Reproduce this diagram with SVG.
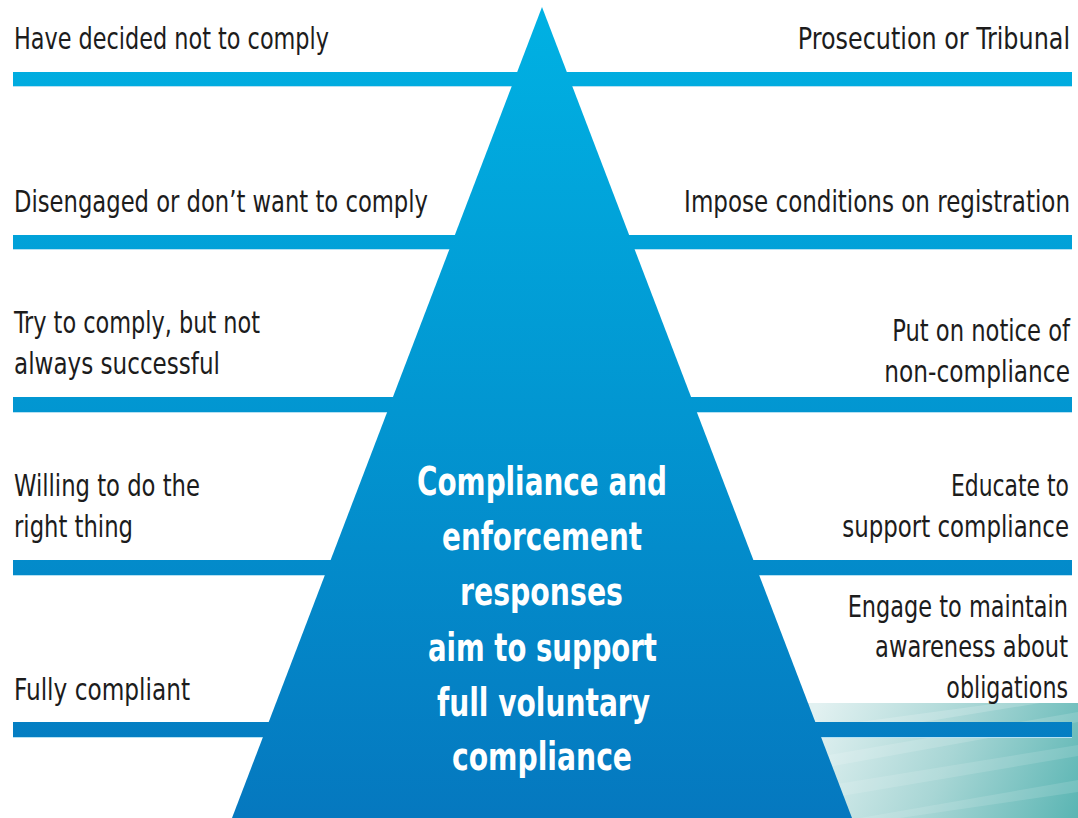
<svg xmlns="http://www.w3.org/2000/svg" width="1078" height="818" viewBox="0 0 1078 818">
  <defs>
    <linearGradient id="blue" gradientUnits="userSpaceOnUse" x1="0" y1="8" x2="0" y2="818">
      <stop offset="0" stop-color="#00B1E3"/>
      <stop offset="0.5" stop-color="#0296D1"/>
      <stop offset="1" stop-color="#0578BF"/>
    </linearGradient>
    <linearGradient id="teal" gradientUnits="userSpaceOnUse" x1="820" y1="700" x2="1078" y2="818">
      <stop offset="0" stop-color="#E2F1F1"/>
      <stop offset="0.5" stop-color="#A8D6D5"/>
      <stop offset="1" stop-color="#5AB5B3"/>
    </linearGradient>
    <style>
      .lbl { font-family: "Liberation Sans Narrow", "DejaVu Sans Condensed", "Liberation Sans", sans-serif; font-size: 31px; fill: #1c1c1c; }
      .r { text-anchor: end; }
      .ctr { font-family: "Liberation Sans Narrow", "DejaVu Sans Condensed", "Liberation Sans", sans-serif; font-size: 39px; font-weight: bold; fill: #ffffff; }
      .bar { fill: url(#blue); }
      .edge { fill: #B5E1F3; }
    </style>
  </defs>
  <rect width="1078" height="818" fill="#ffffff"/>

  <g id="decor">
    <rect x="800" y="703" width="278" height="115" fill="url(#teal)"/>
    <polygon points="800,760 1078,712 1078,722 800,772" fill="#ffffff" opacity="0.15"/>
    <polygon points="800,790 1078,745 1078,756 800,803" fill="#ffffff" opacity="0.13"/>
    <polygon points="860,818 1078,780 1078,792 900,818" fill="#ffffff" opacity="0.13"/>
    <polygon points="800,730 1000,703 1040,703 800,742" fill="#ffffff" opacity="0.18"/>
  </g>

  <g id="connectors">
    <rect class="bar" x="13" y="72" width="1059" height="14"/>
    <rect class="bar" x="13" y="235" width="1059" height="14"/>
    <rect class="bar" x="13" y="397" width="1059" height="15"/>
    <rect class="bar" x="13" y="560" width="1059" height="15"/>
    <rect class="bar" x="13" y="722" width="1059" height="15"/>
    <rect class="edge" x="13" y="86" width="1059" height="1"/>
    <rect class="edge" x="13" y="249" width="1059" height="1"/>
    <rect class="edge" x="13" y="412" width="1059" height="1"/>
    <rect class="edge" x="13" y="575" width="1059" height="1"/>
    <rect class="edge" x="13" y="737" width="1059" height="1"/>
  </g>

  <g id="pyramid">
    <polygon points="542,7 232,818 852,818" fill="url(#blue)"/>
    <text class="ctr" x="417" y="495" textLength="250" lengthAdjust="spacingAndGlyphs">Compliance and</text>
    <text class="ctr" x="442" y="550" textLength="200" lengthAdjust="spacingAndGlyphs">enforcement</text>
    <text class="ctr" x="460" y="605" textLength="163" lengthAdjust="spacingAndGlyphs">responses</text>
    <text class="ctr" x="428" y="661" textLength="229" lengthAdjust="spacingAndGlyphs">aim to support</text>
    <text class="ctr" x="437" y="716" textLength="213" lengthAdjust="spacingAndGlyphs">full voluntary</text>
    <text class="ctr" x="452" y="770" textLength="180" lengthAdjust="spacingAndGlyphs">compliance</text>
  </g>

  <g id="left-1"><text class="lbl" x="14" y="49" textLength="315" lengthAdjust="spacingAndGlyphs">Have decided not to comply</text></g>
  <g id="left-2"><text class="lbl" x="14" y="212" textLength="414" lengthAdjust="spacingAndGlyphs">Disengaged or don’t want to comply</text></g>
  <g id="left-3">
    <text class="lbl" x="14" y="333" textLength="246" lengthAdjust="spacingAndGlyphs">Try to comply, but not</text>
    <text class="lbl" x="14" y="374" textLength="206" lengthAdjust="spacingAndGlyphs">always successful</text>
  </g>
  <g id="left-4">
    <text class="lbl" x="14" y="496" textLength="186" lengthAdjust="spacingAndGlyphs">Willing to do the</text>
    <text class="lbl" x="14" y="537" textLength="119" lengthAdjust="spacingAndGlyphs">right thing</text>
  </g>
  <g id="left-5"><text class="lbl" x="14" y="700" textLength="176" lengthAdjust="spacingAndGlyphs">Fully compliant</text></g>

  <g id="right-1"><text class="lbl r" transform="translate(1070 49) scale(0.72 1)" textLength="378" lengthAdjust="spacingAndGlyphs">Prosecution or Tribunal</text></g>
  <g id="right-2"><text class="lbl r" transform="translate(1070 212) scale(0.72 1)" textLength="536" lengthAdjust="spacingAndGlyphs">Impose conditions on registration</text></g>
  <g id="right-3">
    <text class="lbl r" transform="translate(1070 341) scale(0.72 1)" textLength="247" lengthAdjust="spacingAndGlyphs">Put on notice of</text>
    <text class="lbl r" transform="translate(1070 382) scale(0.72 1)" textLength="258" lengthAdjust="spacingAndGlyphs">non-compliance</text>
  </g>
  <g id="right-4">
    <text class="lbl r" transform="translate(1069 496) scale(0.72 1)" textLength="164" lengthAdjust="spacingAndGlyphs">Educate to</text>
    <text class="lbl r" transform="translate(1069 537) scale(0.72 1)" textLength="315" lengthAdjust="spacingAndGlyphs">support compliance</text>
  </g>
  <g id="right-5">
    <text class="lbl r" transform="translate(1068 617) scale(0.72 1)" textLength="306" lengthAdjust="spacingAndGlyphs">Engage to maintain</text>
    <text class="lbl r" transform="translate(1068 657) scale(0.72 1)" textLength="268" lengthAdjust="spacingAndGlyphs">awareness about</text>
    <text class="lbl r" transform="translate(1068 698) scale(0.72 1)" textLength="169" lengthAdjust="spacingAndGlyphs">obligations</text>
  </g>
</svg>
